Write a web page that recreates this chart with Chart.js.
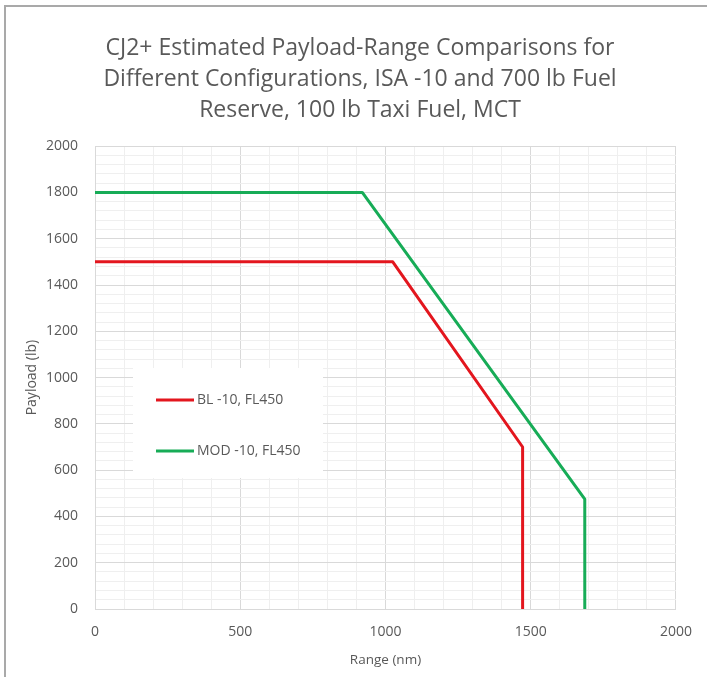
<!DOCTYPE html>
<html>
<head>
<meta charset="utf-8">
<script src="https://cdn.jsdelivr.net/npm/chart.js@4/dist/chart.umd.min.js"></script>
<style>
  html, body { margin: 0; padding: 0; background: #ffffff; }
  #wrap { position: relative; width: 707px; height: 677px; overflow: hidden; }
  #frame { position: absolute; left: 4px; top: 5px; width: 710px; height: 700px;
           border-left: 2px solid #a9a9a9; border-top: 2px solid #a9a9a9; pointer-events: none; }
  canvas { position: absolute; left: 0; top: 0; }
</style>
</head>
<body>
<div id="wrap">
  <canvas id="c" width="707" height="677"></canvas>
  <div id="frame"></div>
</div>
<script>
// ---- data ----
const titleLines = [
  "CJ2+ Estimated Payload-Range Comparisons for",
  "Different Configurations, ISA -10 and 700 lb Fuel",
  "Reserve, 100 lb Taxi Fuel, MCT"
];
const seriesNames = ["BL -10, FL450", "MOD -10, FL450"];
const blRange   = [0, 1025, 1472, 1472];
const blPayload = [1500, 1500, 700, 0];
const modRange   = [0, 920, 1686, 1686];
const modPayload = [1800, 1800, 475, 0];
const xTickLabels = [0, 500, 1000, 1500, 2000];
const yTickLabels = [0, 200, 400, 600, 800, 1000, 1200, 1400, 1600, 1800, 2000];
const xTitle = "Range (nm)";
const yTitle = "Payload (lb)";

const toPoints = (xs, ys) => xs.map((x, i) => ({ x: x, y: ys[i] }));

const FONT = "'Open Sans', 'DejaVu Sans', sans-serif";
const TXT = "#595959";

const insideLegend = {
  id: 'insideLegend',
  afterDatasetsDraw(chart) {
    const ctx = chart.ctx;
    ctx.save();
    ctx.fillStyle = '#ffffff';
    ctx.fillRect(133, 368, 190, 110);
    ctx.font = "14px " + FONT;
    ctx.textBaseline = 'middle';
    const rowsY = [400, 451];
    chart.data.datasets.forEach((ds, i) => {
      const y = rowsY[i];
      ctx.strokeStyle = ds.borderColor;
      ctx.lineWidth = 3;
      ctx.beginPath();
      ctx.moveTo(156, y);
      ctx.lineTo(194, y);
      ctx.stroke();
      ctx.fillStyle = TXT;
      ctx.fillText(ds.label, 197, y);
    });
    ctx.restore();
  }
};

const whiteBg = {
  id: 'whiteBg',
  beforeDraw(chart) {
    const ctx = chart.ctx;
    ctx.save();
    ctx.fillStyle = '#ffffff';
    ctx.fillRect(0, 0, chart.width, chart.height);
    ctx.restore();
  }
};

new Chart(document.getElementById('c'), {
  type: 'scatter',
  data: {
    datasets: [
      { label: seriesNames[0], data: toPoints(blRange, blPayload), showLine: true,
        borderColor: '#e3161e', borderWidth: 3, pointRadius: 0, borderJoinStyle: 'round', borderCapStyle: 'butt' },
      { label: seriesNames[1], data: toPoints(modRange, modPayload), showLine: true,
        borderColor: '#17ac57', borderWidth: 3, pointRadius: 0, borderJoinStyle: 'round', borderCapStyle: 'butt' }
    ]
  },
  options: {
    responsive: false,
    animation: false,
    layout: { padding: { left: 13, right: 0, top: 0, bottom: 0 } },
    plugins: {
      legend: { display: false },
      tooltip: { enabled: false },
      title: {
        display: true,
        text: titleLines,
        color: TXT,
        font: { family: FONT, size: 23, weight: 'normal', lineHeight: 1.35 },
        padding: { top: 33, bottom: 20 }
      }
    },
    scales: {
      x: {
        type: 'linear',
        min: 0, max: 2000,
        afterFit: (s) => { s.height = 68; },
        ticks: {
          stepSize: 100, autoSkip: false, maxRotation: 0,
          color: TXT, font: { family: FONT, size: 14 }, padding: 15,
          callback: (v) => xTickLabels.includes(v) ? String(v) : ''
        },
        grid: {
          drawTicks: false,
          color: (c) => (c.tick && c.tick.value % 500 === 0) ? '#d9d9d9' : '#efefef',
          lineWidth: 1
        },
        border: { color: '#d9d9d9' },
        title: { display: true, text: xTitle, color: TXT, font: { family: FONT, size: 13.5 }, padding: { top: 0, bottom: 9 } }
      },
      y: {
        min: 0, max: 2000,
        afterFit: (s) => { s.width = 82; },
        ticks: {
          stepSize: 40, autoSkip: false, maxTicksLimit: 100,
          color: TXT, font: { family: FONT, size: 14 }, padding: 17,
          callback: (v) => yTickLabels.includes(v) ? String(v) : ''
        },
        grid: {
          drawTicks: false,
          color: (c) => (c.tick && c.tick.value % 200 === 0) ? '#d9d9d9' : '#efefef',
          lineWidth: 1
        },
        border: { color: '#d9d9d9' },
        title: { display: true, text: yTitle, color: TXT, font: { family: FONT, size: 14 }, padding: { top: 11, bottom: 0 } }
      },
      spacer: {
        type: 'linear',
        position: 'right',
        display: true,
        afterFit: (s) => { s.width = 30; },
        ticks: { display: false },
        grid: { display: false, drawTicks: false },
        border: { display: false }
      }
    }
  },
  plugins: [whiteBg, insideLegend]
});
</script>
</body>
</html>
